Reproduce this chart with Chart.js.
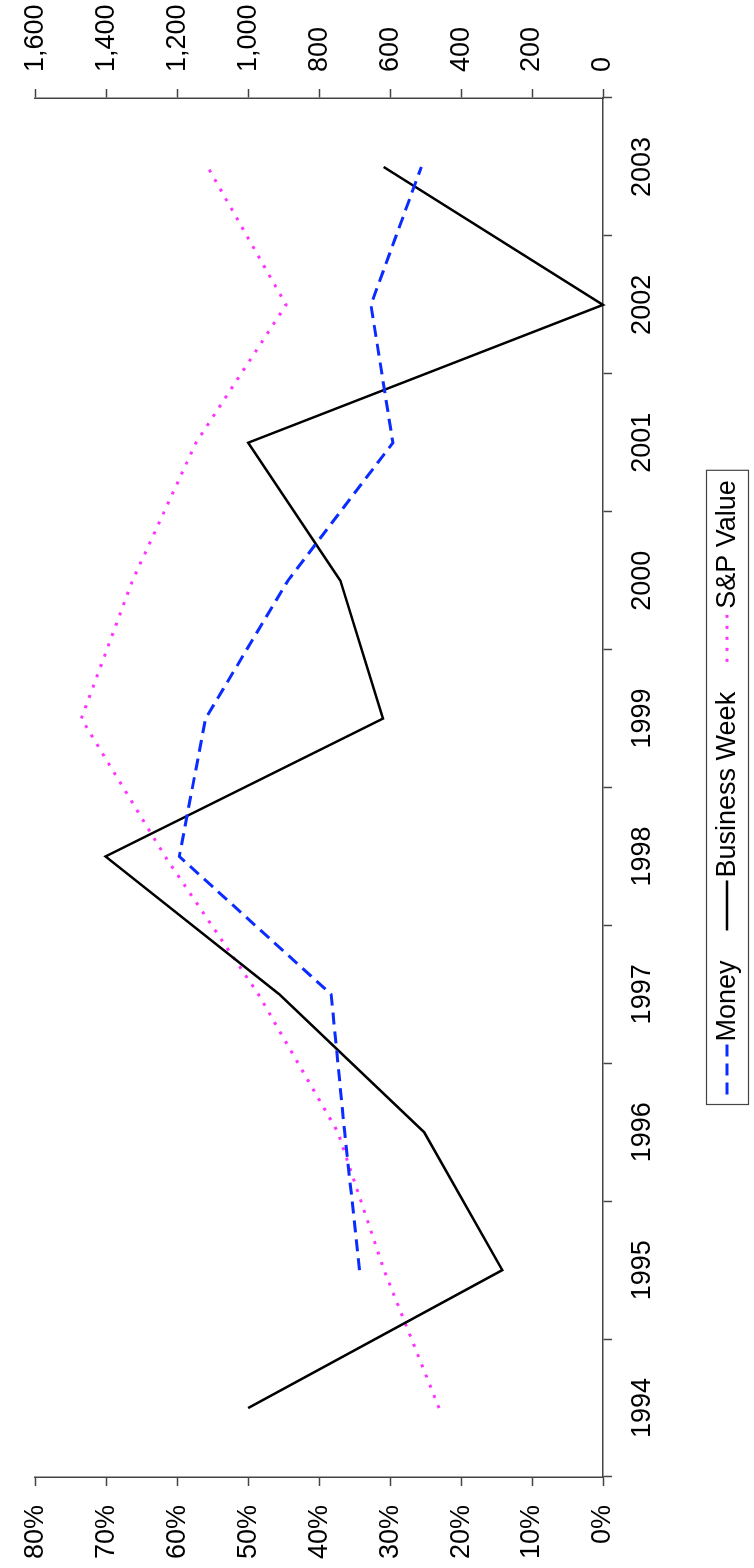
<!DOCTYPE html>
<html>
<head>
<meta charset="utf-8">
<title>Money / Business Week / S&amp;P Value</title>
<script src="https://cdn.jsdelivr.net/npm/chart.js@4.4.0/dist/chart.umd.min.js"></script>
<style>
    html, body { margin: 0; padding: 0; background: #fff; }
    body { width: 754px; height: 1568px; overflow: hidden; position: relative; }
    /* chart is drawn landscape, then turned a quarter turn to the left */
    #wrap {
        position: absolute; left: 0; top: 0;
        width: 1568px; height: 754px;
        transform-origin: 0 0;
        transform: translate(0, 1568px) rotate(-90deg);
    }
</style>
</head>
<body>
<div id="wrap"><canvas id="ctx_returns" width="1568" height="754"></canvas></div>
<script>
// data
var years = [1994, 1995, 1996, 1997, 1998, 1999, 2000, 2001, 2002, 2003];
var business_week = [50.0, 14.2, 25.2, 45.6, 70.1, 31.0, 37.0, 50.0, 0.0, 30.9];   // %
var money_years = [1995, 1996, 1997, 1998, 1999, 2000, 2001, 2002, 2003];
var money = [34.3, 36.4, 38.3, 59.7, 56.0, 44.4, 29.6, 32.7, 25.6];                // %
var sp_value = [462, 617, 747, 971, 1234, 1470, 1326, 1147, 893, 1114];            // index

var pct_ticks = [0, 10, 20, 30, 40, 50, 60, 70, 80];
var value_ticks = [0, 200, 400, 600, 800, 1000, 1200, 1400, 1600];

var axis_color = '#444';
var font_family = '"Liberation Sans", Arial, sans-serif';
var font_size = 27;

function pairs(xs, ys) {
    return xs.map(function (x, i) { return {x: x, y: ys[i]}; });
}

// legend with a frame round it, symbol then text for each series
var box_legend = {
    id: 'box_legend',
    afterDraw: function (chart) {
        var c = chart.ctx;
        var area = chart.chartArea;
        var sets = chart.data.datasets;
        var sym = 50, gap = 3, spacing = 30, pad = 10;
        var top = 706, h = 42, mid = top + h / 2;

        c.save();
        c.font = font_size + 'px ' + font_family;
        var widths = sets.map(function (d) { return c.measureText(d.label).width; });
        var total = pad * 2 + spacing * (sets.length - 1);
        widths.forEach(function (w) { total += w + sym + gap; });
        var left = Math.round((area.left + area.right) / 2 - total / 2) + 0.5;

        c.strokeStyle = axis_color;
        c.lineWidth = 1.2;
        c.strokeRect(left, top + 0.5, total, h);

        var x = left + pad;
        sets.forEach(function (d, i) {
            c.strokeStyle = d.borderColor;
            c.lineWidth = d.borderWidth;
            c.setLineDash(d.borderDash || []);
            c.beginPath();
            c.moveTo(x, mid);
            c.lineTo(x + sym, mid);
            c.stroke();
            c.setLineDash([]);
            x += sym + gap;
            c.fillStyle = '#000';
            c.textAlign = 'left';
            c.textBaseline = 'middle';
            c.fillText(d.label, x, mid + 1);
            x += widths[i] + spacing;
        });
        c.restore();
    }
};

Chart.defaults.font.family = font_family;
Chart.defaults.font.size = font_size;
Chart.defaults.color = '#000';

var ctx_returns = document.getElementById('ctx_returns').getContext('2d');
var chart_returns = new Chart(ctx_returns, {
    type: 'line',
    data: {
        datasets: [{
            label: 'Money',
            data: pairs(money_years, money),
            yAxisID: 'y',
            borderColor: '#0a2cff',
            borderWidth: 3,
            borderDash: [12, 7],
            pointRadius: 0,
            tension: 0,
            clip: 6
        }, {
            label: 'Business Week',
            data: pairs(years, business_week),
            yAxisID: 'y',
            borderColor: '#000',
            borderWidth: 2.5,
            pointRadius: 0,
            tension: 0,
            clip: 6
        }, {
            label: 'S&P Value',
            data: pairs(years, sp_value),
            yAxisID: 'y2',
            borderColor: '#ff33ff',
            borderWidth: 3,
            borderDash: [3, 8],
            pointRadius: 0,
            tension: 0,
            clip: 6
        }]
    },
    options: {
        responsive: false,
        animation: false,
        devicePixelRatio: 1,
        layout: {
            padding: {top: 25, right: 0, bottom: 0, left: 0}
        },
        plugins: {
            legend: {display: false},
            tooltip: {enabled: false}
        },
        scales: {
            x: {
                type: 'linear',
                position: 'bottom',
                min: years[0] - 0.5,
                max: years[years.length - 1] + 0.5,
                afterFit: function (s) { s.height = 151; },
                border: {color: axis_color, width: 1.5},
                grid: {
                    drawOnChartArea: false,
                    tickLength: 9,
                    tickWidth: 1.5,
                    tickColor: function (c) {
                        return Number.isInteger(c.tick.value) ? 'rgba(0,0,0,0)' : axis_color;
                    }
                },
                ticks: {
                    stepSize: 0.5,
                    autoSkip: false,
                    maxRotation: 0,
                    padding: 14,
                    callback: function (v) {
                        return years.indexOf(v) >= 0 ? String(v) : '';
                    }
                }
            },
            y: {
                position: 'left',
                min: pct_ticks[0],
                max: pct_ticks[pct_ticks.length - 1],
                afterFit: function (s) { s.width = 91; },
                border: {color: axis_color, width: 1.5},
                grid: {drawOnChartArea: false, tickLength: 9, tickWidth: 1.5, tickColor: axis_color},
                ticks: {
                    stepSize: 10,
                    padding: 19,
                    callback: function (v) { return v + '%'; }
                }
            },
            y2: {
                position: 'right',
                min: value_ticks[0],
                max: value_ticks[value_ticks.length - 1],
                afterFit: function (s) { s.width = 98; },
                border: {color: axis_color, width: 1.5},
                grid: {drawOnChartArea: false, tickLength: 9, tickWidth: 1.5, tickColor: axis_color},
                ticks: {
                    stepSize: 200,
                    padding: 17,
                    callback: function (v) { return v.toLocaleString('en-US'); }
                }
            }
        }
    },
    plugins: [box_legend]
});
</script>
</body>
</html>
